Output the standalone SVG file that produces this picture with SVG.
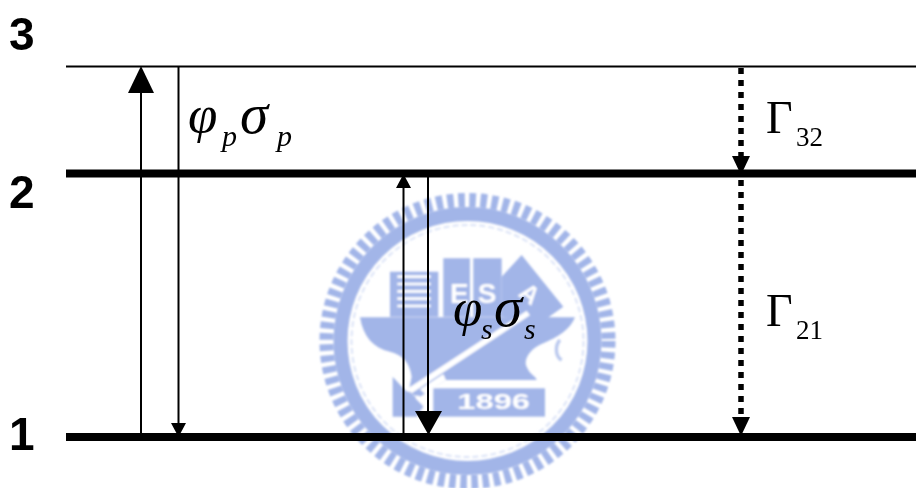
<svg xmlns="http://www.w3.org/2000/svg" width="916" height="488" viewBox="0 0 916 488">
<style>
.lv{stroke:#000;fill:none}
.ar{stroke:#000;stroke-width:2;fill:none}
.dot{stroke:#000;stroke-width:5.5;stroke-dasharray:6 6;fill:none}
.hd{fill:#000;stroke:none}
.num{font-family:"Liberation Sans",Arial,sans-serif;font-weight:bold;font-size:46px;fill:#000}
.gp{font-family:"Liberation Serif","Times New Roman",serif;font-style:italic;font-size:53px;fill:#000}
.gs{font-family:"Liberation Serif","Times New Roman",serif;font-style:italic;font-size:57px;fill:#000}
.si{font-family:"Liberation Serif","Times New Roman",serif;font-style:italic;font-size:30px;fill:#000}
.G{font-family:"Liberation Serif","Times New Roman",serif;font-size:46px;fill:#000}
.sb{font-family:"Liberation Serif","Times New Roman",serif;font-size:27px;fill:#000}
.wm{fill:#a2b5e8}
.wt{font-family:"Liberation Sans",Arial,sans-serif;font-weight:bold;fill:#fff}
</style>
<defs><filter id="soft" x="-5%" y="-5%" width="110%" height="110%"><feGaussianBlur stdDeviation="1"/></filter></defs>
<rect width="916" height="488" fill="#fff"/>
<g id="watermark" filter="url(#soft)">
<circle cx="467.500" cy="341" r="141" fill="none" stroke="#a2b5e8" stroke-width="14" stroke-dasharray="6.600 4.500"/>
<circle cx="467.500" cy="341" r="127" fill="none" stroke="#a2b5e8" stroke-width="14"/>
<circle cx="467.500" cy="341" r="116" fill="none" stroke="#dbe3f7" stroke-width="2" stroke-dasharray="6 3"/>
<g transform="translate(310 180) scale(.3333)">
<path class="wm" d="M240 275H385V410H240Z"/>
<path d="M262 290H362M262 312H362M262 334H362M262 356H362M262 378H362" stroke="#fff" stroke-width="8" fill="none"/>
<path class="wm" d="M400 235H480V410H400Z"/>
<path class="wm" d="M490 235H575V410H490Z"/>
<path class="wm" d="M575 290L635 225L760 380L690 430L575 410Z"/>
<text class="wt" x="420" y="370" font-size="84">E</text>
<text class="wt" x="503" y="370" font-size="84">S</text>
<text class="wt" font-size="76" transform="translate(622 345) rotate(38)">A</text>
<path class="wm" d="M150 412H795C780 450 745 470 700 490C660 505 640 540 650 560C660 585 680 590 680 600H408L330 650L295 640L305 590C300 550 280 525 240 515C190 505 160 470 150 412Z"/>
<path d="M290 628L650 392L660 406L305 640Z" fill="#fff"/>
<path d="M330 628L400 582L408 600L345 642Z" fill="#fff"/>
<path class="wm" d="M248 590L285 630L340 665L340 710H248Z"/>
<path d="M320 650L350 680L325 710" fill="none" stroke="#fff" stroke-width="12"/>
<rect class="wm" x="370" y="625" width="335" height="85"/>
<text class="wt" x="442" y="688" font-size="64" textLength="218" lengthAdjust="spacingAndGlyphs">1896</text>
<path d="M750 480C735 495 735 530 755 540" fill="none" stroke="#b9c8ee" stroke-width="10"/>
</g>
</g>
<g id="connectors">
<path class="ar" d="M141 437V90"/>
<path class="hd" d="M141 66L154 93H128Z"/>
<path class="ar" d="M178.500 66V425"/>
<path class="hd" d="M178.500 437L171 423H186Z"/>
<path class="ar" d="M403.500 437V185"/>
<path class="hd" d="M403.500 174L396 188H411Z"/>
<path class="ar" d="M428 173V415"/>
<path class="hd" d="M428.500 435L415 411H442Z"/>
<path class="dot" d="M741 68V160"/>
<path class="hd" d="M741 175L732 156H750Z"/>
<path class="dot" d="M741 180V420"/>
<path class="hd" d="M741 436L732 417H750Z"/>
</g>
<g id="level-3"><path class="lv" stroke-width="2" d="M66 66.500H916"/><text class="num" x="9" y="50">3</text></g>
<g id="level-2"><path class="lv" stroke-width="8" d="M66 173.500H916"/><text class="num" x="9" y="208">2</text></g>
<g id="level-1"><path class="lv" stroke-width="8" d="M66 437H916"/><text class="num" x="9" y="450">1</text></g>
<g id="label-pump"><text class="gp" x="188" y="132">φ</text><text class="si" x="222" y="146">p</text><text class="gs" x="240" y="133">σ</text><text class="si" x="277" y="146">p</text></g>
<g id="label-signal"><text class="gp" x="453" y="325">φ</text><text class="si" x="481" y="339">s</text><text class="gs" x="494" y="326">σ</text><text class="si" x="524" y="339">s</text></g>
<g id="label-g32"><text class="G" x="766" y="133">Γ</text><text class="sb" x="796" y="146">32</text></g>
<g id="label-g21"><text class="G" x="766" y="326">Γ</text><text class="sb" x="796" y="339">21</text></g>
</svg>
